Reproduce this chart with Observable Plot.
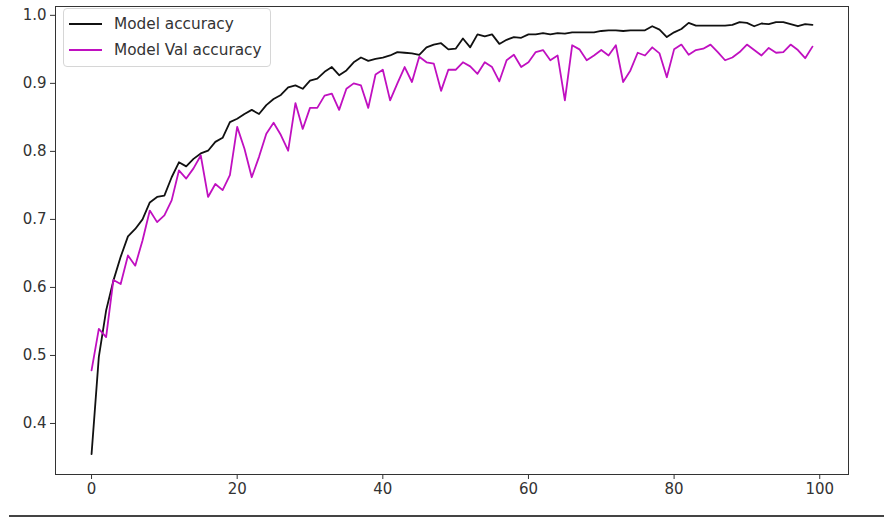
<!DOCTYPE html>
<html>
<head>
<meta charset="utf-8">
<script src="https://cdn.jsdelivr.net/npm/d3@7"></script>
<script src="https://cdn.jsdelivr.net/npm/@observablehq/plot@0.6"></script>
<style>
  html, body { margin: 0; padding: 0; background: #fff; }
  #wrap { position: relative; width: 884px; height: 517px; overflow: hidden; }
  #legend {
    position: absolute; left: 63px; top: 8px; width: 206px; height: 57px;
    border: 1px solid #d6d6d6; border-radius: 4px; background: rgba(255,255,255,0.8);
    font-family: "DejaVu Sans", sans-serif; font-size: 15.3px; color: #333;
  }
  .item { position: absolute; left: 5px; height: 18px; display: flex; align-items: center; }
  .swatch { width: 33px; height: 2px; margin-right: 12px; }
  #baseline { position: absolute; left: 9px; right: 0; top: 515px; height: 0; border-top: 2px solid #444; }
</style>
</head>
<body>
<div id="wrap">
  <div id="chart"></div>
  <div id="legend"></div>
  <div id="baseline"></div>
</div>
<script>
const seriesNames = ["Model accuracy", "Model Val accuracy"];
const seriesColors = ["#111111", "#c010c0"];
const xTicks = [0, 20, 40, 60, 80, 100];
const yTicks = [0.4, 0.5, 0.6, 0.7, 0.8, 0.9, 1.0];

const accuracy = [
  0.355, 0.498, 0.566, 0.610, 0.645, 0.675, 0.686, 0.700, 0.725, 0.733,
  0.735, 0.762, 0.784, 0.778, 0.789, 0.797, 0.801, 0.814, 0.820, 0.843,
  0.848, 0.855, 0.861, 0.855, 0.868, 0.877, 0.883, 0.894, 0.897, 0.892,
  0.904, 0.907, 0.917, 0.924, 0.912, 0.919, 0.931, 0.938, 0.933, 0.936,
  0.938, 0.941, 0.946, 0.945, 0.944, 0.942, 0.953, 0.957, 0.959, 0.950,
  0.951, 0.966, 0.953, 0.972, 0.969, 0.972, 0.958, 0.964, 0.968, 0.967,
  0.972, 0.972, 0.974, 0.972, 0.974, 0.973, 0.975, 0.975, 0.975, 0.975,
  0.977, 0.978, 0.978, 0.977, 0.978, 0.978, 0.978, 0.984, 0.979, 0.968,
  0.975, 0.980, 0.989, 0.985, 0.985, 0.985, 0.985, 0.985, 0.986, 0.990,
  0.989, 0.984, 0.988, 0.987, 0.990, 0.990, 0.987, 0.984, 0.987, 0.986
];

const valAccuracy = [
  0.478, 0.539, 0.527, 0.611, 0.605, 0.647, 0.632, 0.669, 0.713, 0.696,
  0.706, 0.728, 0.772, 0.760, 0.775, 0.794, 0.733, 0.752, 0.743, 0.765,
  0.836, 0.804, 0.762, 0.792, 0.826, 0.842, 0.824, 0.801, 0.871, 0.833,
  0.864, 0.864, 0.882, 0.885, 0.861, 0.892, 0.900, 0.897, 0.864, 0.913,
  0.920, 0.875, 0.900, 0.924, 0.902, 0.939, 0.931, 0.929, 0.889, 0.920,
  0.920, 0.931, 0.925, 0.914, 0.931, 0.924, 0.903, 0.934, 0.942, 0.924,
  0.931, 0.946, 0.949, 0.934, 0.941, 0.875, 0.956, 0.950, 0.934, 0.941,
  0.949, 0.941, 0.956, 0.902, 0.919, 0.945, 0.941, 0.953, 0.944, 0.909,
  0.950, 0.957, 0.942, 0.949, 0.951, 0.957, 0.946, 0.934, 0.938, 0.946,
  0.957, 0.949, 0.941, 0.952, 0.945, 0.946, 0.957, 0.949, 0.937, 0.954
];

const series = [accuracy, valAccuracy];

const chart = Plot.plot({
  width: 884,
  height: 515,
  marginLeft: 55,
  marginRight: 36,
  marginTop: 6,
  marginBottom: 41,
  style: { fontFamily: "DejaVu Sans, sans-serif", fontSize: "15px", color: "#333", background: "#fff", overflow: "visible" },
  x: { domain: [-4.95, 103.95] },
  y: { domain: [0.325, 1.013] },
  marks: [
    Plot.axisX({ ticks: xTicks, tickSize: 5, tickPadding: 4, label: null, tickFormat: d3.format("d"), stroke: "#333" }),
    Plot.axisY({ ticks: yTicks, tickSize: 5, tickPadding: 4, label: null, tickFormat: d3.format(".1f"), stroke: "#333" }),
    ...series.map((s, k) => Plot.lineY(s, { x: (d, i) => i, y: d => d, stroke: seriesColors[k], strokeWidth: 1.8 })),
    Plot.frame({ stroke: "#333", strokeWidth: 1 })
  ]
});
document.getElementById("chart").appendChild(chart);

const legend = document.getElementById("legend");
seriesNames.forEach((name, k) => {
  const item = document.createElement("div");
  item.className = "item";
  item.style.top = (k === 0 ? 6 : 32) + "px";
  const sw = document.createElement("div");
  sw.className = "swatch";
  sw.style.background = seriesColors[k];
  const tx = document.createElement("span");
  tx.textContent = name;
  item.appendChild(sw);
  item.appendChild(tx);
  legend.appendChild(item);
});
</script>
</body>
</html>
